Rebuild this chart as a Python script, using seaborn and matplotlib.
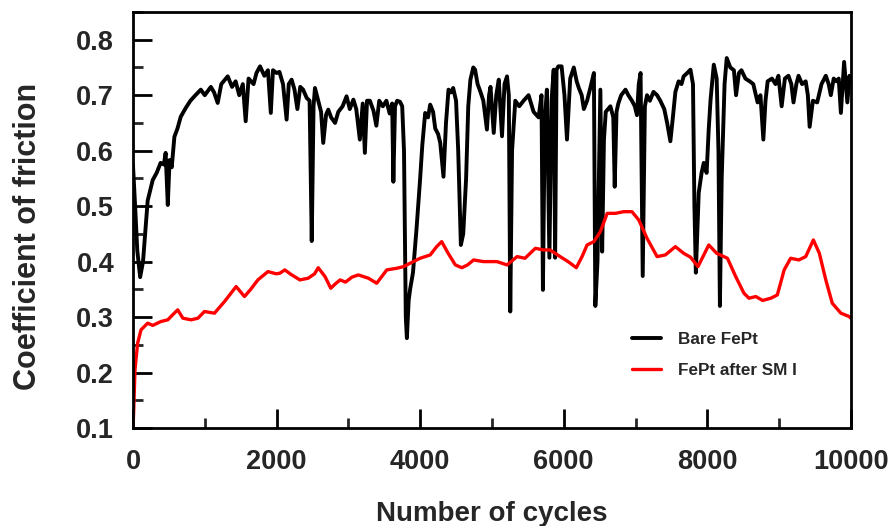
import numpy as np
import pandas as pd
import seaborn as sns
import matplotlib
matplotlib.use("Agg")
from matplotlib import pyplot as plt
from matplotlib.ticker import MultipleLocator

# cycles and COF of each run
bare_cycles = [0, 30, 60, 100, 140, 205, 275, 330, 385, 430, 455, 485, 510, 540, 577, 620, 665, 735,
               800, 856, 945, 1000, 1085, 1130, 1180, 1230, 1320, 1380, 1430, 1480, 1530, 1570, 1610,
               1680, 1720, 1770, 1830, 1880, 1920, 1950, 2000, 2040, 2090, 2140, 2170, 2210, 2250,
               2290, 2330, 2370, 2420, 2460, 2490, 2515, 2535, 2580, 2620, 2650, 2690, 2720, 2760,
               2815, 2860, 2920, 2975, 3020, 3070, 3110, 3160, 3200, 3230, 3260, 3300, 3350, 3390,
               3430, 3480, 3530, 3575, 3610, 3627, 3650, 3680, 3720, 3750, 3775, 3800, 3815, 3840,
               3860, 3900, 3950, 4000, 4030, 4070, 4110, 4140, 4180, 4210, 4250, 4280, 4325, 4360,
               4395, 4430, 4460, 4500, 4530, 4567, 4600, 4640, 4670, 4700, 4740, 4765, 4800, 4840,
               4880, 4930, 4960, 4980, 5025, 5060, 5095, 5140, 5175, 5210, 5235, 5255, 5280, 5325,
               5380, 5440, 5510, 5580, 5650, 5690, 5710, 5735, 5765, 5800, 5830, 5860, 5880, 5900,
               5925, 5970, 6010, 6045, 6090, 6140, 6180, 6210, 6250, 6280, 6325, 6370, 6420, 6440,
               6470, 6510, 6535, 6560, 6585, 6650, 6690, 6710, 6735, 6760, 6800, 6860, 6900, 6950,
               6990, 7020, 7045, 7070, 7100, 7130, 7160, 7200, 7250, 7300, 7345, 7400, 7440, 7485,
               7520, 7555, 7600, 7640, 7670, 7720, 7765, 7800, 7820, 7840, 7880, 7920, 7950, 7990,
               8020, 8045, 8090, 8130, 8155, 8175, 8200, 8240, 8270, 8320, 8370, 8400, 8440, 8475,
               8530, 8590, 8640, 8700, 8740, 8780, 8810, 8840, 8900, 8950, 8990, 9035, 9080, 9130,
               9170, 9200, 9240, 9270, 9320, 9370, 9400, 9425, 9470, 9530, 9590, 9650, 9690, 9720,
               9760, 9800, 9830, 9860, 9905, 9930, 9950, 9980, 10000]
bare_cof = [0.575, 0.50, 0.42, 0.372, 0.40, 0.51, 0.547, 0.56, 0.578, 0.575, 0.596, 0.502, 0.583, 0.57,
            0.625, 0.64, 0.661, 0.677, 0.69, 0.698, 0.71, 0.70, 0.715, 0.705, 0.686, 0.72, 0.734,
            0.715, 0.725, 0.70, 0.72, 0.653, 0.73, 0.72, 0.74, 0.752, 0.735, 0.745, 0.668, 0.745,
            0.74, 0.742, 0.72, 0.656, 0.72, 0.728, 0.71, 0.675, 0.715, 0.71, 0.695, 0.69, 0.437,
            0.68, 0.713, 0.69, 0.67, 0.614, 0.665, 0.674, 0.66, 0.65, 0.67, 0.68, 0.698, 0.675,
            0.692, 0.675, 0.62, 0.685, 0.596, 0.69, 0.69, 0.672, 0.645, 0.69, 0.68, 0.69, 0.667,
            0.685, 0.544, 0.68, 0.69, 0.688, 0.68, 0.60, 0.30, 0.262, 0.33, 0.35, 0.38, 0.46, 0.55,
            0.61, 0.668, 0.66, 0.683, 0.67, 0.64, 0.63, 0.614, 0.553, 0.65, 0.71, 0.705, 0.713,
            0.69, 0.60, 0.43, 0.45, 0.55, 0.68, 0.728, 0.75, 0.746, 0.72, 0.706, 0.69, 0.638, 0.70,
            0.715, 0.632, 0.70, 0.728, 0.626, 0.72, 0.734, 0.70, 0.31, 0.60, 0.69, 0.68, 0.69,
            0.70, 0.67, 0.66, 0.70, 0.349, 0.65, 0.71, 0.407, 0.69, 0.746, 0.407, 0.746, 0.752,
            0.752, 0.70, 0.62, 0.73, 0.75, 0.725, 0.713, 0.70, 0.675, 0.69, 0.713, 0.74, 0.32,
            0.40, 0.71, 0.418, 0.62, 0.67, 0.68, 0.66, 0.535, 0.67, 0.685, 0.70, 0.71, 0.70, 0.69,
            0.68, 0.664, 0.72, 0.74, 0.374, 0.68, 0.70, 0.69, 0.706, 0.70, 0.69, 0.675, 0.65,
            0.617, 0.66, 0.706, 0.725, 0.72, 0.734, 0.74, 0.746, 0.72, 0.50, 0.38, 0.524, 0.56,
            0.578, 0.56, 0.64, 0.692, 0.755, 0.73, 0.60, 0.32, 0.55, 0.72, 0.767, 0.75, 0.745,
            0.70, 0.74, 0.745, 0.73, 0.725, 0.72, 0.687, 0.70, 0.62, 0.69, 0.725, 0.73, 0.72,
            0.735, 0.68, 0.73, 0.735, 0.72, 0.687, 0.72, 0.735, 0.72, 0.725, 0.70, 0.643, 0.69,
            0.687, 0.72, 0.735, 0.72, 0.70, 0.73, 0.725, 0.73, 0.668, 0.76, 0.72, 0.687, 0.735,
            0.72]

sm_cycles = [0, 10, 28, 65, 112, 205, 275, 390, 485, 560, 623, 695, 810, 905, 995, 1135, 1275, 1437,
             1553, 1640, 1740, 1880, 1995, 2045, 2115, 2200, 2325, 2440, 2530, 2580, 2675, 2755,
             2820, 2885, 2960, 3050, 3140, 3280, 3395, 3535, 3675, 3770, 3905, 4000, 4140, 4230,
             4300, 4390, 4490, 4580, 4660, 4745, 4880, 5070, 5210, 5350, 5460, 5605, 5720, 5810,
             5950, 6060, 6175, 6255, 6325, 6420, 6510, 6605, 6720, 6835, 6950, 7045, 7160, 7300,
             7415, 7555, 7670, 7765, 7870, 8020, 8130, 8280, 8395, 8510, 8580, 8675, 8770, 8885,
             8975, 9070, 9160, 9275, 9370, 9477, 9560, 9650, 9740, 9860, 9975, 10000]
sm_cof = [0.10, 0.13, 0.205, 0.253, 0.277, 0.289, 0.285, 0.292, 0.295, 0.305, 0.313, 0.298, 0.295,
          0.298, 0.31, 0.307, 0.328, 0.355, 0.337, 0.35, 0.367, 0.382, 0.378, 0.379, 0.385, 0.377,
          0.367, 0.37, 0.378, 0.389, 0.373, 0.352, 0.36, 0.367, 0.363, 0.372, 0.376, 0.37, 0.361,
          0.385, 0.388, 0.391, 0.40, 0.406, 0.412, 0.427, 0.436, 0.415, 0.394, 0.389, 0.394,
          0.403, 0.40, 0.40, 0.394, 0.409, 0.406, 0.424, 0.421, 0.421, 0.409, 0.40, 0.389, 0.409,
          0.43, 0.436, 0.454, 0.487, 0.487, 0.49, 0.49, 0.475, 0.442, 0.409, 0.412, 0.427, 0.415,
          0.408, 0.391, 0.43, 0.415, 0.406, 0.373, 0.343, 0.334, 0.337, 0.33, 0.334, 0.34, 0.385,
          0.406, 0.403, 0.409, 0.439, 0.415, 0.367, 0.325, 0.307, 0.301, 0.298]

bare = pd.DataFrame({'cycles': bare_cycles, 'cof': bare_cof})
sm = pd.DataFrame({'cycles': sm_cycles, 'cof': sm_cof})

sns.set_style("ticks")
plt.rcParams['font.family'] = ['Liberation Sans', 'DejaVu Sans']
plt.rcParams['font.weight'] = 'bold'

fig = plt.figure(figsize=(8.9, 5.26), dpi=100)
ax = fig.add_axes([0.1494, 0.1863, 0.8067, 0.7909])

sns.lineplot(data=bare, x='cycles', y='cof', color='black', lw=2.8, estimator=None,
             sort=False, label='Bare FePt', ax=ax)
sns.lineplot(data=sm, x='cycles', y='cof', color='#ff0000', lw=2.4, estimator=None,
             sort=False, label='FePt after SM I', ax=ax)

ax.set_xlim(0, 10000)
ax.set_ylim(0.1, 0.85)
ax.xaxis.set_major_locator(MultipleLocator(2000))
ax.xaxis.set_minor_locator(MultipleLocator(1000))
ax.yaxis.set_major_locator(MultipleLocator(0.1))
ax.yaxis.set_minor_locator(MultipleLocator(0.05))
ax.set_yticks(np.arange(0.1, 0.85, 0.1))
ax.set_yticklabels(['%.1f' % v for v in np.arange(0.1, 0.85, 0.1)])

ax.tick_params(which='major', direction='in', length=13.5, width=2, labelsize=19.5,
               top=False, right=False, color='black')
ax.tick_params(which='minor', direction='in', length=7.5, width=2, top=False, right=False)
ax.tick_params(axis='x', which='major', pad=15)
ax.tick_params(axis='y', which='major', pad=13.5)
for s in ax.spines.values():
    s.set_linewidth(2)
    s.set_color('black')

ax.set_xlabel('Number of cycles', fontsize=20, fontweight='bold')
ax.set_ylabel('Coefficient of friction', fontsize=22, fontweight='bold')
ax.xaxis.set_label_coords(0.5, -0.1755)
ax.yaxis.set_label_coords(-0.1255, 0.46)

ax.legend(loc='upper left', bbox_to_anchor=(0.695, 0.2315), frameon=False,
          fontsize=12.3, handlelength=1.7, handletextpad=1.0, labelspacing=0.95,
          borderpad=0, borderaxespad=0)

fig.savefig('out.png', dpi=100, facecolor='white')
